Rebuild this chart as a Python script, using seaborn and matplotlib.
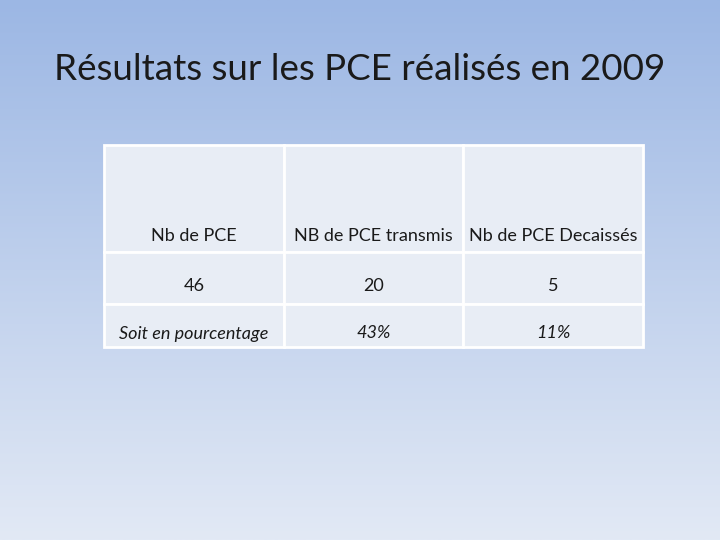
import numpy as np
import matplotlib
matplotlib.use("Agg")
import matplotlib.pyplot as plt
import seaborn as sns

title = "Résultats sur les PCE réalisés en 2009"
headers = ["Nb de PCE", "NB de PCE transmis", "Nb de PCE Decaissés"]
counts = ["46", "20", "5"]
percents = ["Soit en pourcentage", "43%", "11%"]

sns.set_theme(style="white")
plt.rcParams['font.family'] = ['Lato', 'DejaVu Sans']

fig = plt.figure(figsize=(7.2, 5.4), dpi=100)
bg = fig.add_axes([0, 0, 1, 1])
grad = np.linspace(0, 1, 256).reshape(-1, 1)
top = np.array([0x9c, 0xb7, 0xe4]) / 255
bot = np.array([0xe2, 0xe9, 0xf5]) / 255
img = top[None, None, :] * (1 - grad[:, :, None]) + bot[None, None, :] * grad[:, :, None]
bg.imshow(img, aspect='auto', extent=[0, 1, 0, 1])
bg.set_axis_off()

fig.text(0.5, 1 - 70 / 540, title, ha='center', va='center', fontsize=26.5, color='#1a1a1a')

ax = fig.add_axes([104 / 720, 1 - 347 / 540, 539 / 720, 202 / 540])
ax.set_axis_off()
cell_text = [["\n\n\n\n" + h for h in headers], counts, percents]
tab = ax.table(cellText=cell_text, cellLoc='center', bbox=[0, 0, 1, 1])
tab.auto_set_font_size(False)
heights = [107 / 202, 52 / 202, 43 / 202]
for (r, c), cell in tab.get_celld().items():
    cell.set_facecolor('#e8edf5')
    cell.set_edgecolor('white')
    cell.set_linewidth(2)
    cell.set_height(heights[r])
    t = cell.get_text()
    t.set_fontsize(13)
    t.set_color('#1a1a1a')
    if r > 0:
        t.set_va('top')
    if r == 2:
        t.set_style('italic')

fig.savefig("out.png", dpi=100)
